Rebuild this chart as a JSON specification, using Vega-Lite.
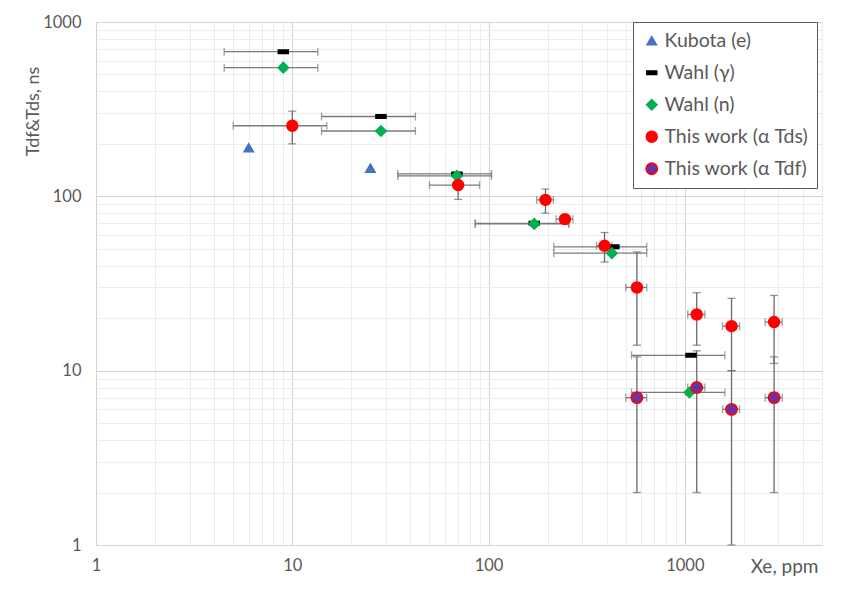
{
  "$schema": "https://vega.github.io/schema/vega-lite/v6.json",
  "width": 726,
  "height": 523,
  "autosize": {"type": "none"},
  "padding": {"left": 96, "top": 22, "right": 33, "bottom": 50},
  "background": "white",
  "config": {
    "view": {"stroke": "#d9d9d9"},
    "font": "Lato"
  },
  "datasets": {
    "pts": [
      {"series": "Kubota (e)", "x": 6, "y": 190},
      {"series": "Kubota (e)", "x": 25, "y": 145},
      {"series": "Wahl (γ)", "x": 9, "y": 676},
      {"series": "Wahl (γ)", "x": 28.3, "y": 287},
      {"series": "Wahl (γ)", "x": 69, "y": 134.5},
      {"series": "Wahl (γ)", "x": 171, "y": 70},
      {"series": "Wahl (γ)", "x": 435, "y": 51.3},
      {"series": "Wahl (γ)", "x": 1075, "y": 12.25},
      {"series": "Wahl (n)", "x": 9, "y": 547},
      {"series": "Wahl (n)", "x": 28.3, "y": 237},
      {"series": "Wahl (n)", "x": 69, "y": 131},
      {"series": "Wahl (n)", "x": 171, "y": 69.5},
      {"series": "Wahl (n)", "x": 425, "y": 47.2},
      {"series": "Wahl (n)", "x": 1055, "y": 7.5},
      {"series": "This work (α Tds)", "x": 10, "y": 254},
      {"series": "This work (α Tds)", "x": 70, "y": 116},
      {"series": "This work (α Tds)", "x": 195, "y": 95.4},
      {"series": "This work (α Tds)", "x": 245, "y": 74},
      {"series": "This work (α Tds)", "x": 390, "y": 52},
      {"series": "This work (α Tds)", "x": 570, "y": 30},
      {"series": "This work (α Tds)", "x": 1150, "y": 21},
      {"series": "This work (α Tds)", "x": 1730, "y": 18},
      {"series": "This work (α Tds)", "x": 2850, "y": 19},
      {"series": "This work (α Tdf)", "x": 570, "y": 7},
      {"series": "This work (α Tdf)", "x": 1150, "y": 8},
      {"series": "This work (α Tdf)", "x": 1730, "y": 6},
      {"series": "This work (α Tdf)", "x": 2850, "y": 7}
    ],
    "xerr": [
      {"series": "Wahl (γ)", "x": 4.5, "xhi": 13.5, "y": 676},
      {"series": "Wahl (γ)", "x": 14.1, "xhi": 42.4, "y": 287},
      {"series": "Wahl (γ)", "x": 34.5, "xhi": 103.5, "y": 134.5},
      {"series": "Wahl (γ)", "x": 85.5, "xhi": 256.5, "y": 70},
      {"series": "Wahl (γ)", "x": 215, "xhi": 640, "y": 51.3},
      {"series": "Wahl (γ)", "x": 535, "xhi": 1600, "y": 12.25},
      {"series": "Wahl (n)", "x": 4.5, "xhi": 13.5, "y": 547},
      {"series": "Wahl (n)", "x": 14.1, "xhi": 42.4, "y": 237},
      {"series": "Wahl (n)", "x": 34.5, "xhi": 103.5, "y": 131},
      {"series": "Wahl (n)", "x": 85.5, "xhi": 256.5, "y": 69.5},
      {"series": "Wahl (n)", "x": 215, "xhi": 640, "y": 47.2},
      {"series": "Wahl (n)", "x": 535, "xhi": 1600, "y": 7.5},
      {"series": "This work (α Tds)", "x": 5, "xhi": 15, "y": 254},
      {"series": "This work (α Tds)", "x": 50, "xhi": 90, "y": 116},
      {"series": "This work (α Tds)", "x": 176, "xhi": 214, "y": 95.4},
      {"series": "This work (α Tds)", "x": 221, "xhi": 269, "y": 74},
      {"series": "This work (α Tds)", "x": 355, "xhi": 425, "y": 52},
      {"series": "This work (α Tds)", "x": 500, "xhi": 640, "y": 30},
      {"series": "This work (α Tds)", "x": 1035, "xhi": 1265, "y": 21},
      {"series": "This work (α Tds)", "x": 1557, "xhi": 1903, "y": 18},
      {"series": "This work (α Tds)", "x": 2565, "xhi": 3135, "y": 19},
      {"series": "This work (α Tdf)", "x": 500, "xhi": 640, "y": 7},
      {"series": "This work (α Tdf)", "x": 1035, "xhi": 1265, "y": 8},
      {"series": "This work (α Tdf)", "x": 1557, "xhi": 1903, "y": 6},
      {"series": "This work (α Tdf)", "x": 2565, "xhi": 3135, "y": 7}
    ],
    "yerr": [
      {"series": "This work (α Tds)", "x": 10, "y": 200, "yhi": 308},
      {"series": "This work (α Tds)", "x": 70, "y": 96, "yhi": 136},
      {"series": "This work (α Tds)", "x": 195, "y": 80, "yhi": 110},
      {"series": "This work (α Tds)", "x": 390, "y": 42, "yhi": 62},
      {"series": "This work (α Tds)", "x": 570, "y": 14, "yhi": 48},
      {"series": "This work (α Tds)", "x": 1150, "y": 14, "yhi": 28},
      {"series": "This work (α Tds)", "x": 1730, "y": 10, "yhi": 26},
      {"series": "This work (α Tds)", "x": 2850, "y": 11, "yhi": 27},
      {"series": "This work (α Tdf)", "x": 570, "y": 2, "yhi": 12},
      {"series": "This work (α Tdf)", "x": 1150, "y": 2, "yhi": 13},
      {"series": "This work (α Tdf)", "x": 1730, "y": 1, "yhi": 10},
      {"series": "This work (α Tdf)", "x": 2850, "y": 2, "yhi": 12}
    ]
  },
  "encoding": {
    "x": {
      "field": "x", "type": "quantitative",
      "scale": {"type": "log", "domain": [1, 5000], "nice": false},
      "axis": {
        "values": [1,2,3,4,5,6,7,8,9,10,20,30,40,50,60,70,80,90,100,200,300,400,500,600,700,800,900,1000,2000,3000,4000,5000],
        "labelExpr": "datum.value == 1 || datum.value == 10 || datum.value == 100 || datum.value == 1000 ? format(datum.value, 'd') : ''",
        "grid": true,
        "gridColor": {"condition": {"test": "datum.value == 1 || datum.value == 10 || datum.value == 100 || datum.value == 1000", "value": "#d4d4d4"}, "value": "#ececec"},
        "gridWidth": 1,
        "ticks": false,
        "domain": false,
        "labelFont": "Lato",
        "labelFontSize": 16.5,
        "labelColor": "#595959",
        "labelPadding": 12,
        "labelOverlap": false,
        "labelBound": false,
        "labelFlush": false,
        "title": "Xe, ppm",
        "titleFont": "Lato",
        "titleFontSize": 19,
        "titleFontWeight": "normal",
        "titleColor": "#595959",
        "titleX": 722,
        "titleY": 27,
        "titleAlign": "right",
        "titleBaseline": "alphabetic"
      }
    },
    "y": {
      "field": "y", "type": "quantitative",
      "scale": {"type": "log", "domain": [1, 1000], "nice": false},
      "axis": {
        "values": [1,2,3,4,5,6,7,8,9,10,20,30,40,50,60,70,80,90,100,200,300,400,500,600,700,800,900,1000],
        "labelExpr": "datum.value == 1 || datum.value == 10 || datum.value == 100 || datum.value == 1000 ? format(datum.value, 'd') : ''",
        "grid": true,
        "gridColor": {"condition": {"test": "datum.value == 1 || datum.value == 10 || datum.value == 100 || datum.value == 1000", "value": "#d4d4d4"}, "value": "#ececec"},
        "gridWidth": 1,
        "ticks": false,
        "domain": false,
        "labelFont": "Lato",
        "labelFontSize": 16.5,
        "labelColor": "#595959",
        "labelPadding": 15,
        "labelOverlap": false,
        "labelBound": false,
        "labelFlush": false,
        "title": "Tdf&Tds, ns",
        "titleFont": "Lato",
        "titleFontSize": 18,
        "titleFontWeight": "normal",
        "titleColor": "#595959",
        "titleAngle": -90,
        "titleX": -63,
        "titleY": 89,
        "titleAlign": "center",
        "titleBaseline": "middle"
      }
    }
  },
  "layer": [
    {
      "data": {"name": "xerr"},
      "mark": {"type": "errorbar", "color": "#7a7a7a", "thickness": 1.3, "ticks": {"size": 8, "thickness": 1.3}},
      "encoding": {
        "x2": {"field": "xhi"}
      }
    },
    {
      "data": {"name": "yerr"},
      "mark": {"type": "errorbar", "color": "#6a6a6a", "thickness": 1.3, "ticks": {"size": 8, "thickness": 1.3}},
      "encoding": {
        "y2": {"field": "yhi"}
      }
    },
    {
      "data": {"name": "pts"},
      "mark": {"type": "point", "filled": true, "opacity": 1, "strokeWidth": 1.5},
      "encoding": {
        "color": {
          "field": "series", "type": "nominal",
          "scale": {"domain": ["Kubota (e)", "Wahl (γ)", "Wahl (n)", "This work (α Tds)", "This work (α Tdf)"], "range": ["#4472C4", "#000000", "#00B050", "#FF0000", "#7030A0"]},
          "legend": {
            "title": null,
            "orient": "none",
            "legendX": 537,
            "legendY": 0,
            "direction": "vertical",
            "strokeColor": "#595959",
            "fillColor": "white",
            "padding": 9,
            "rowPadding": 11,
            "labelFont": "Lato",
            "labelFontSize": 19.5,
            "labelColor": "#595959",
            "labelOffset": 3,
            "labelExpr": "datum.label + '\u00a0\u00a0\u00a0\u00a0'",
            "symbolStrokeWidth": 1.5,
            "symbolOpacity": 1
          }
        },
        "stroke": {
          "field": "series", "type": "nominal",
          "scale": {"domain": ["Kubota (e)", "Wahl (γ)", "Wahl (n)", "This work (α Tds)", "This work (α Tdf)"], "range": ["#4472C4", "#000000", "#00B050", "#FF0000", "#FF0000"]},
          "legend": {"title": null}
        },
        "shape": {
          "field": "series", "type": "nominal",
          "scale": {"domain": ["Kubota (e)", "Wahl (γ)", "Wahl (n)", "This work (α Tds)", "This work (α Tdf)"], "range": ["triangle-up", "M-1,-0.35H1V0.35H-1Z", "diamond", "circle", "circle"]},
          "legend": {"title": null}
        },
        "size": {
          "field": "series", "type": "nominal",
          "scale": {"domain": ["Kubota (e)", "Wahl (γ)", "Wahl (n)", "This work (α Tds)", "This work (α Tdf)"], "range": [90, 130, 100, 170, 170]},
          "legend": {"title": null}
        }
      }
    }
  ]
}
